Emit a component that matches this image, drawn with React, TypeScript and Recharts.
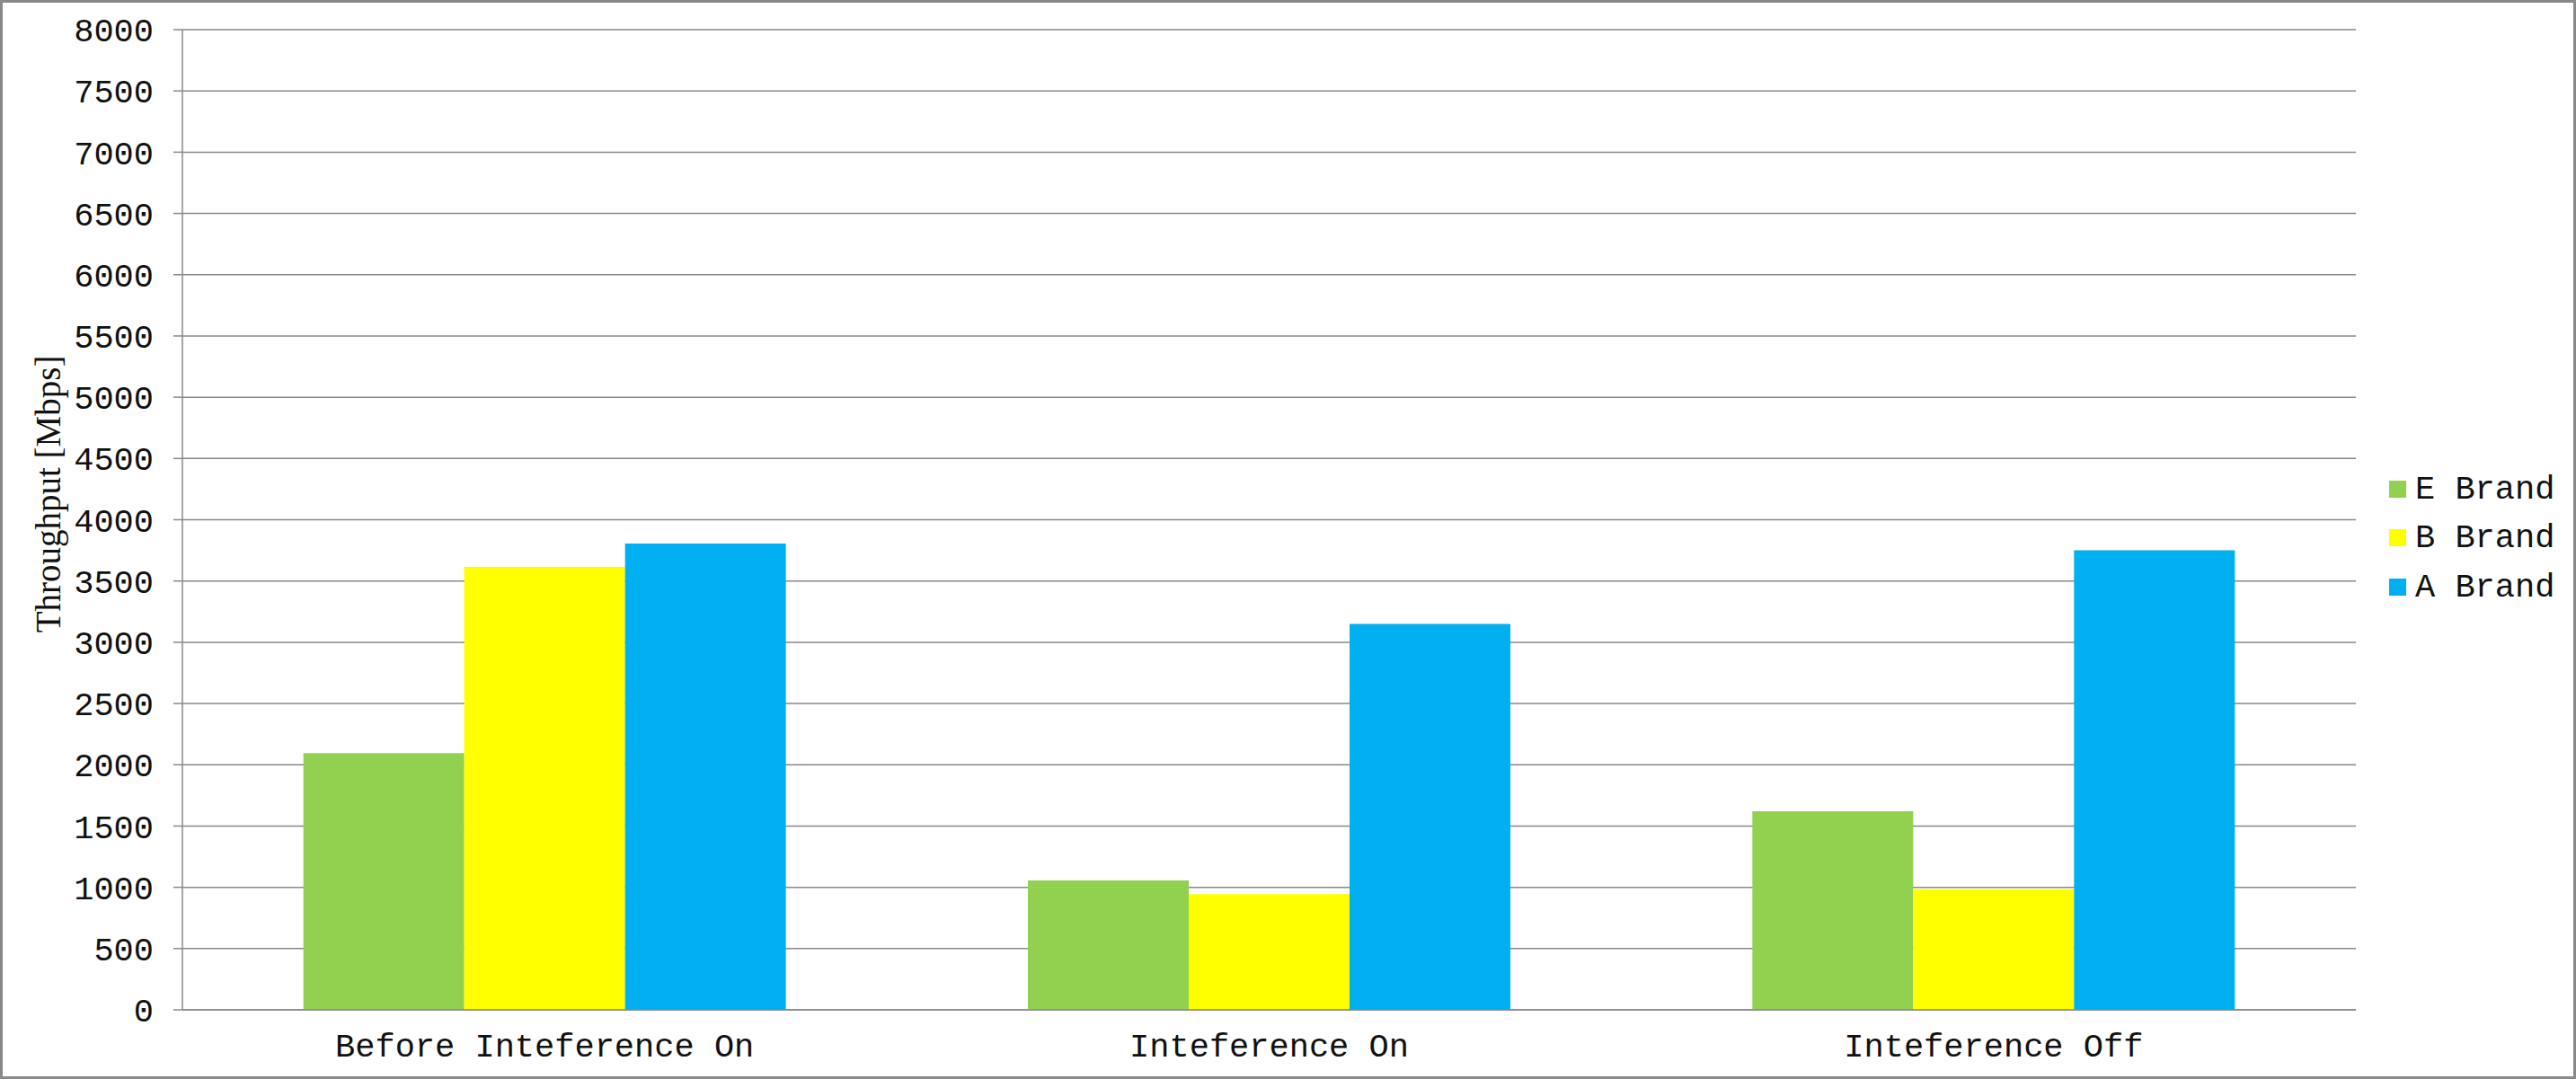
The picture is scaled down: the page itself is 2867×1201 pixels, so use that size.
import { BarChart, Bar, XAxis, YAxis, CartesianGrid, Legend } from 'recharts';

const categories = ['Before Inteference On', 'Inteference On', 'Inteference Off'];
const seriesNames = ['E Brand', 'B Brand', 'A Brand'];
const eBrand = [2095, 1055, 1620];
const bBrand = [3615, 945, 985];
const aBrand = [3805, 3150, 3750];
const yTicks = [0, 500, 1000, 1500, 2000, 2500, 3000, 3500, 4000, 4500, 5000, 5500, 6000, 6500, 7000, 7500, 8000];
const edgeTicks = [0, 1, 2, 3];

const data = categories.map((name, i) => ({
  name,
  e: eBrand[i],
  b: bBrand[i],
  a: aBrand[i],
}));

const GRID = '#898989';
const MONO = '"Liberation Mono", "Courier New", monospace';

// keep legend in series order (recharts sorts it by name otherwise)
const renderLegend = (props: any) => {
  const items = [...props.payload].sort(
    (p: any, q: any) => seriesNames.indexOf(p.value) - seriesNames.indexOf(q.value)
  );
  return (
    <div style={{ fontFamily: MONO, fontSize: 37, color: '#111' }}>
      {items.map((entry: any) => (
        <div key={entry.value} style={{ display: 'flex', alignItems: 'center', height: 54.5 }}>
          <span style={{ width: 19, height: 19, background: entry.color, marginRight: 10, display: 'inline-block' }} />
          <span style={{ lineHeight: '37px', paddingTop: 2 }}>{entry.value}</span>
        </div>
      ))}
    </div>
  );
};

const yTitle = () => (
  <text
    x={53}
    y={550}
    transform="rotate(-90 53 550)"
    textAnchor="middle"
    dominantBaseline="central"
    fontFamily='"Liberation Serif", "Times New Roman", serif'
    fontSize={39}
    fill="#111"
  >
    Throughput [Mbps]
  </text>
);

export default function App() {
  return (
    <div style={{ position: 'relative', width: 2867, height: 1201, background: '#fff' }}>
      <style>{'body{margin:0}'}</style>
      <BarChart
        width={2867}
        height={1201}
        data={data}
        margin={{ top: 33, right: 245, left: 0, bottom: 0 }}
        barCategoryGap="16.7%"
        barGap={0}
      >
        <CartesianGrid vertical={false} stroke={GRID} strokeWidth={1.5} />
        <XAxis
          xAxisId="edge"
          type="number"
          domain={[0, 3]}
          ticks={edgeTicks}
          allowDataOverflow
          tick={false}
          axisLine={false}
          tickLine={{ stroke: GRID, strokeWidth: 1.5 }}
          tickSize={10}
          height={0}
        />
        <XAxis
          xAxisId="cat"
          dataKey="name"
          height={77}
          tickLine={false}
          tickSize={10}
          tickMargin={16}
          axisLine={{ stroke: GRID, strokeWidth: 1.5 }}
          tick={{ fontFamily: MONO, fontSize: 37, fill: '#111' }}
        />
        <YAxis
          width={203}
          domain={[0, 8000]}
          ticks={yTicks}
          interval={0}
          tickSize={10}
          tickMargin={22}
          axisLine={{ stroke: GRID, strokeWidth: 1.5 }}
          tickLine={{ stroke: GRID, strokeWidth: 1.5 }}
          tick={{ fontFamily: MONO, fontSize: 37, fill: '#111' }}
          label={{ content: yTitle }}
        />
        <Legend
          layout="vertical"
          align="center"
          verticalAlign="middle"
          content={renderLegend}
          wrapperStyle={{ left: 2659, top: 517, width: 'auto' }}
        />
        <Bar xAxisId="cat" dataKey="e" name="E Brand" fill="#92D050" isAnimationActive={false} />
        <Bar xAxisId="cat" dataKey="b" name="B Brand" fill="#FFFF00" isAnimationActive={false} />
        <Bar xAxisId="cat" dataKey="a" name="A Brand" fill="#00B0F0" isAnimationActive={false} />
      </BarChart>
      <div
        style={{
          position: 'absolute',
          left: 0,
          top: 0,
          width: 2867,
          height: 1201,
          boxSizing: 'border-box',
          border: `3px solid ${GRID}`,
          pointerEvents: 'none',
        }}
      />
    </div>
  );
}
